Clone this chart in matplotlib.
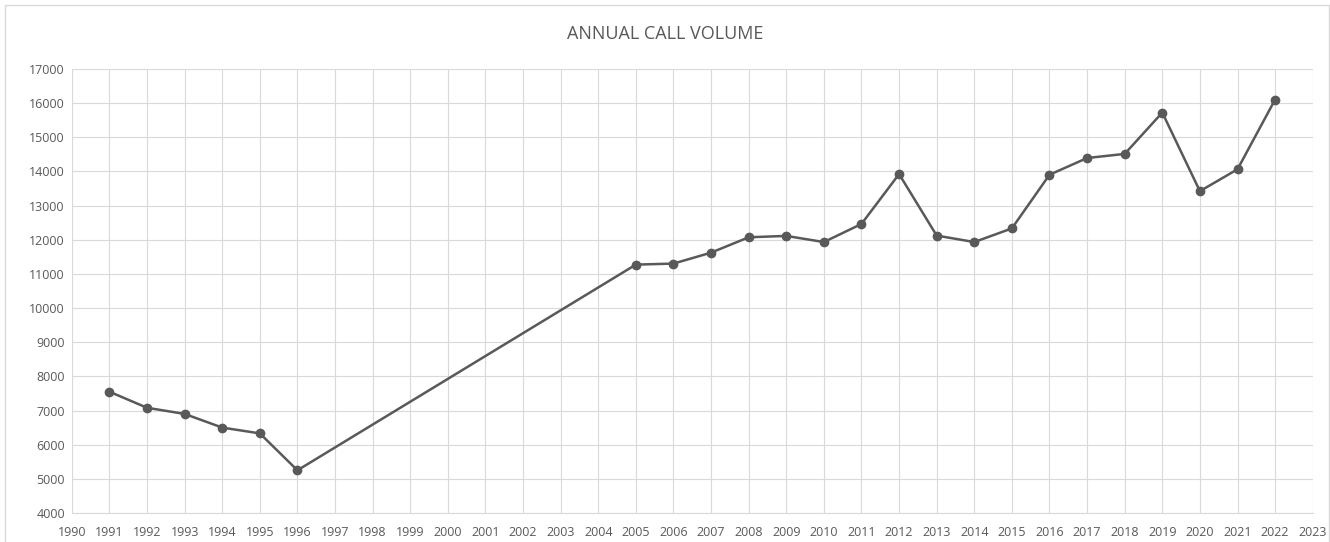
import matplotlib.pyplot as plt
from matplotlib.patches import Rectangle

# Annual call volume (no data 1997-2004)
years = [1991, 1992, 1993, 1994, 1995, 1996,
         2005, 2006, 2007, 2008, 2009, 2010, 2011, 2012, 2013,
         2014, 2015, 2016, 2017, 2018, 2019, 2020, 2021, 2022]
calls = [7550, 7080, 6900, 6500, 6330, 5250,
         11270, 11300, 11620, 12070, 12110, 11930, 12460, 13920, 12120,
         11930, 12330, 13900, 14390, 14510, 15720, 13420, 14060, 16100]

x_ticks = list(range(1990, 2024))
y_ticks = list(range(4000, 17001, 1000))

plt.rcParams['font.family'] = ['Open Sans', 'DejaVu Sans']
text_col = '#595959'

fig = plt.figure(figsize=(13.3, 5.42), dpi=100)
ax = fig.add_axes([0.054, 0.0535, 0.933, 0.8195])

ax.plot(years, calls, color='#595959', linewidth=1.8, marker='o',
        markersize=6, markerfacecolor='#595959', markeredgecolor='#595959', zorder=3)

ax.set_xlim(1990, 2023)
ax.set_ylim(4000, 17000)
ax.set_xticks(x_ticks)
ax.set_yticks(y_ticks)
ax.set_xticklabels([str(y) for y in x_ticks])
ax.grid(True, color='#d9d9d9', linewidth=0.8)
ax.set_axisbelow(True)

for side in ['top', 'right', 'left']:
    ax.spines[side].set_visible(False)
ax.spines['bottom'].set_color('#d9d9d9')
ax.tick_params(axis='both', length=0, labelsize=9, labelcolor=text_col)
ax.tick_params(axis='x', pad=9)
ax.tick_params(axis='y', pad=5)

fig.text(0.5, 0.938, 'ANNUAL CALL VOLUME', ha='center', va='center',
         fontsize=13, color=text_col)

# thin light border around the chart area
fig.patches.append(Rectangle((0.004, -0.01), 0.995, 1.0, transform=fig.transFigure,
                             fill=False, edgecolor='#d9d9d9', linewidth=1))

plt.savefig('out.png', dpi=100)
